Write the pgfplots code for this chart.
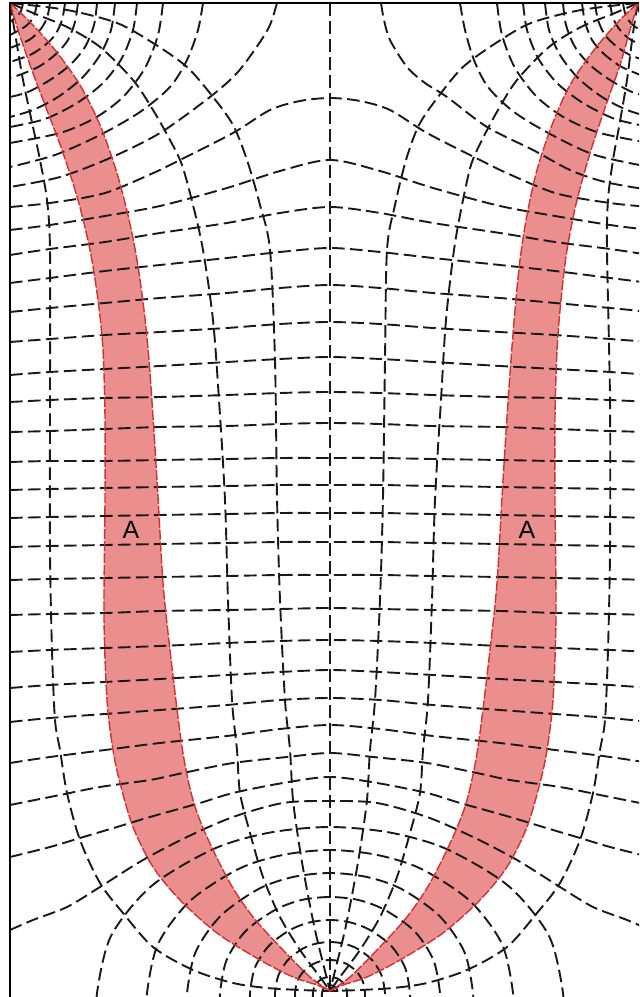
\documentclass[border=0pt]{standalone}
\usepackage{fontspec}
\setmainfont{Liberation Sans}
\usepackage{pgfplots}
\usepackage{pgfplotstable}
\pgfplotsset{compat=1.18}
\usepgfplotslibrary{fillbetween}
\definecolor{bandfill}{RGB}{234,142,142}
\definecolor{bandedge}{RGB}{212,48,48}
\definecolor{netline}{RGB}{25,25,25}
\tikzset{
  net/.style={netline, line width=0.95pt, dash pattern=on 6.3pt off 2.7pt, smooth},
  edge/.style={bandedge, line width=0.7pt, dash pattern=on 5pt off 1pt, smooth},
}
% boundaries of the two shaded stream tubes (outer and inner stream lines)
\pgfplotstableread{
x y
10 3
18 30
30 65
45 105
62 150
78 200
90 250
98 300
103 350
105 417
105 500
104 617
107 700
113 750
120 783
133 827
153 867
180 900
217 933
260 960
293 977
317 985
330 991
}\outerL
\pgfplotstableread{
x y
10 3
30 22
55 50
80 85
100 125
116 170
128 215
137 260
144 310
149 360
153 417
158 497
163 583
170 650
182 747
193 800
207 837
230 883
253 917
283 950
310 977
330 991
}\innerL
\pgfplotstableread{
x y
638 3
630 30
620 65
606 105
591 150
577 200
567 250
561 300
557 350
555 417
555 500
556 617
553 700
547 750
540 783
527 827
507 867
480 900
443 933
400 960
367 977
343 985
330 991
}\outerR
\pgfplotstableread{
x y
638 3
618 22
594 50
570 85
552 125
537 170
527 215
520 260
515 310
511 360
507 417
502 497
497 583
490 650
478 747
467 800
453 837
430 883
407 917
377 950
350 977
330 991
}\innerR
\begin{document}
\begin{tikzpicture}
\begin{axis}[
  scale only axis, width=319.5pt, height=498.5pt,
  xmin=0, xmax=639, ymin=0, ymax=997, y dir=reverse,
  axis line style={draw=none}, ticks=none, clip=true,
]
% shaded tubes
\addplot[draw=none, smooth, name path=oL] table {\outerL};
\addplot[draw=none, smooth, name path=iL] table {\innerL};
\addplot[draw=none, smooth, name path=oR] table {\outerR};
\addplot[draw=none, smooth, name path=iR] table {\innerR};
\addplot[bandfill] fill between[of=oL and iL];
\addplot[bandfill] fill between[of=oR and iR];

% stream lines
\addplot[net] coordinates {(330,3) (330,991)};
\addplot[net] coordinates {(10,3)(67,10)(117,23)(153,43)(187,67)(213,97)(233,125)(247,160)(260,205)(270,250)(275,360)(277,497)(280,600)(285,700)(290,750)(293,800)(300,850)(307,890)(315,930)(323,963)(330,991)};
\addplot[net] coordinates {(638,3)(581,10)(531,23)(496,43)(463,67)(438,97)(419,125)(406,160)(395,205)(387,250)(385,360)(383,497)(380,600)(375,700)(370,750)(367,800)(360,850)(353,890)(345,930)(337,963)(330,991)};
\addplot[net] coordinates {(10,3)(33,13)(67,27)(100,47)(133,80)(153,110)(170,140)(182,165)(193,205)(203,250)(213,320)(219,400)(225,500)(228,600)(232,700)(237,750)(240,793)(250,833)(263,877)(280,917)(300,950)(320,977)(330,991)};
\addplot[net] coordinates {(638,3)(615,13)(581,27)(549,47)(517,80)(498,110)(482,140)(471,165)(462,205)(454,250)(446,320)(441,400)(435,500)(432,600)(428,700)(423,750)(420,793)(410,833)(397,877)(380,917)(360,950)(340,977)(330,991)};
\addplot[net] coordinates {(10,3)(15,33)(23,80)(33,127)(40,160)(47,200)(50,250)(50,400)(50,550)(52,650)(55,720)(60,750)(67,793)(80,840)(100,883)(123,913)(153,947)(193,970)(233,983)(267,988)(300,990)(330,991)};
\addplot[net] coordinates {(638,3)(633,33)(627,80)(619,127)(613,160)(608,200)(607,250)(610,400)(610,550)(608,650)(605,720)(600,750)(593,793)(580,840)(560,883)(537,913)(507,947)(467,970)(427,983)(393,988)(360,990)(330,991)};

% equipotentials around the upper left corner
\addplot[net] coordinates {(23,3)(20,13)(10,22)};
\addplot[net] coordinates {(37,3)(34,16)(26,26)(10,35)};
\addplot[net] coordinates {(50,3)(47,18)(40,30)(29,40)(10,48)};
\addplot[net] coordinates {(65,3)(62,20)(55,35)(44,46)(30,55)(10,62)};
\addplot[net] coordinates {(78,3)(75,22)(68,40)(56,54)(40,66)(22,74)(10,78)};
\addplot[net] coordinates {(97,3)(94,25)(85,47)(70,65)(50,80)(28,92)(10,97)};
\addplot[net] coordinates {(115,3)(111,30)(100,55)(82,78)(58,97)(33,110)(10,117)};
\addplot[net] coordinates {(137,3)(133,30)(122,58)(103,83)(77,103)(45,119)(10,127)};
\addplot[net] coordinates {(163,3)(158,35)(145,68)(123,97)(95,118)(60,133)(10,143)};
\addplot[net] coordinates {(203,3)(198,30)(187,60)(170,87)(140,112)(100,135)(55,155)(10,167)};
\addplot[net] coordinates {(277,3)(270,25)(258,45)(237,73)(210,97)(160,133)(110,158)(60,177)(10,187)};
% equipotentials around the upper right corner
\addplot[net] coordinates {(637,3)(640,13)(650,22)};
\addplot[net] coordinates {(623,3)(626,16)(634,26)(650,35)};
\addplot[net] coordinates {(610,3)(613,18)(620,30)(631,40)(650,48)};
\addplot[net] coordinates {(595,3)(598,20)(605,35)(616,46)(630,55)(650,62)};
\addplot[net] coordinates {(582,3)(585,22)(592,40)(604,54)(620,66)(638,74)(650,78)};
\addplot[net] coordinates {(563,3)(566,25)(575,47)(590,65)(610,80)(632,92)(650,97)};
\addplot[net] coordinates {(545,3)(549,30)(560,55)(578,78)(602,97)(627,110)(650,117)};
\addplot[net] coordinates {(523,3)(527,30)(538,58)(557,83)(583,103)(615,119)(650,127)};
\addplot[net] coordinates {(497,3)(502,35)(515,68)(537,97)(565,118)(600,133)(650,143)};
\addplot[net] coordinates {(460,3)(465,30)(474,60)(488,87)(514,112)(552,135)(595,155)(650,167)};
\addplot[net] coordinates {(381,3)(384,20)(390,40)(407,67)(425,83)(447,97)(487,127)(533,150)(570,170)(605,182)(650,190)};

% equipotentials crossing the whole width
\addplot[net] coordinates {(10,207)(50,203)(105,193)(160,170)(180,160)(233,133)(270,110)(300,101)(330,98)(360,101)(390,110)(427,133)(480,160)(500,170)(555,193)(610,203)(650,207)};
\addplot[net] coordinates {(10,230)(50,225)(105,216)(160,206)(227,188)(280,171)(330,160)(380,171)(433,188)(500,206)(555,216)(610,225)(650,230)};
\addplot[net] coordinates {(10,255)(50,249)(105,242)(160,233)(227,223)(280,213)(330,207)(380,213)(433,223)(500,233)(555,242)(610,249)(650,255)};
\addplot[net] coordinates {(10,283)(50,278)(105,271)(160,265)(227,258)(280,252)(330,248)(380,252)(433,258)(500,265)(555,271)(610,278)(650,283)};
\addplot[net] coordinates {(10,312)(50,308)(105,303)(160,298)(227,293)(280,288)(330,285)(380,288)(433,293)(500,298)(555,303)(610,308)(650,312)};
\addplot[net] coordinates {(10,342)(50,339)(105,335)(160,332)(227,328)(280,324)(330,322)(380,324)(433,328)(500,332)(555,335)(610,339)(650,342)};
\addplot[net] coordinates {(10,375)(50,372)(105,369)(160,366)(227,362)(280,359)(330,357)(380,359)(433,362)(500,366)(555,369)(610,372)(650,375)};
\addplot[net] coordinates {(10,402)(50,400)(105,398)(160,397)(227,395)(280,393)(330,392)(380,393)(433,395)(500,397)(555,398)(610,400)(650,402)};
\addplot[net] coordinates {(10,432)(50,431)(105,429)(160,427)(227,426)(280,424)(330,423)(380,424)(433,426)(500,427)(555,429)(610,431)(650,432)};
\addplot[net] coordinates {(10,462)(50,461)(105,461)(160,460)(227,459)(280,458)(330,458)(380,458)(433,459)(500,460)(555,461)(610,461)(650,462)};
\addplot[net] coordinates {(10,490)(50,489)(105,488)(160,487)(227,486)(280,485)(330,485)(380,485)(433,486)(500,487)(555,488)(610,489)(650,490)};
\addplot[net] coordinates {(10,518)(50,517)(105,516)(160,515)(227,514)(280,513)(330,513)(380,513)(433,514)(500,515)(555,516)(610,517)(650,518)};
\addplot[net] coordinates {(10,547)(50,546)(105,545)(160,544)(227,543)(280,542)(330,542)(380,542)(433,543)(500,544)(555,545)(610,546)(650,547)};
\addplot[net] coordinates {(10,580)(50,579)(105,578)(160,577)(227,576)(280,575)(330,575)(380,575)(433,576)(500,577)(555,578)(610,579)(650,580)};
\addplot[net] coordinates {(10,615)(50,614)(105,613)(160,611)(227,610)(280,609)(330,608)(380,609)(433,610)(500,611)(555,613)(610,614)(650,615)};
\addplot[net] coordinates {(10,652)(50,650)(105,648)(160,646)(227,643)(280,641)(330,640)(380,641)(433,643)(500,646)(555,648)(610,650)(650,652)};
\addplot[net] coordinates {(10,688)(50,685)(105,682)(160,679)(227,675)(280,672)(330,670)(380,672)(433,675)(500,679)(555,682)(610,685)(650,688)};
\addplot[net] coordinates {(10,722)(50,718)(105,714)(160,710)(227,705)(280,700)(330,698)(380,700)(433,705)(500,710)(555,714)(610,718)(650,722)};
\addplot[net] coordinates {(10,763)(50,757)(105,750)(160,743)(227,736)(280,729)(330,725)(380,729)(433,736)(500,743)(555,750)(610,757)(650,763)};
\addplot[net] coordinates {(10,805)(60,795)(100,787)(150,780)(183,773)(233,763)(287,757)(330,753)(373,757)(427,763)(477,773)(510,780)(560,787)(600,795)(650,805)};
\addplot[net] coordinates {(10,857)(50,847)(80,838)(117,827)(150,817)(200,803)(233,793)(283,783)(330,777)(377,783)(427,793)(460,803)(510,817)(543,827)(580,838)(610,847)(650,857)};
\addplot[net] coordinates {(10,930)(33,920)(67,907)(100,887)(143,860)(187,837)(233,817)(283,803)(330,801)(377,803)(427,817)(473,837)(517,860)(560,887)(593,907)(627,920)(650,930)};

% equipotentials around the source
\addplot[net] coordinates {(99,1016)(97,993)(111,936)(151.5,886)(213.5,849)(269.7,832.6)(330,827)(390.3,832.6)(446.5,849)(508.5,886)(549,936)(563,993)(561,1016)};
\addplot[net] coordinates {(149,1013)(147,993)(158,944)(190,901)(238.5,869)(282.6,855)(330,850)(377.4,855)(421.5,869)(470,901)(502,944)(513,993)(511,1013)};
\addplot[net] coordinates {(188.4,1010)(187,993)(195.6,952)(220.5,916)(258.5,889)(293,877)(330,873)(367,877)(401.5,889)(439.5,916)(464.4,952)(473,993)(471.6,1010)};
\addplot[net] coordinates {(221,1006)(220,993)(226.6,960)(245.7,931)(275,910)(301.5,900)(330,897)(358.5,900)(385,910)(414.3,931)(433.4,960)(440,993)(439,1006)};
\addplot[net] coordinates {(250.8,1003)(250,993)(254.8,968)(268.7,946)(290,930)(309.3,922.5)(330,920)(350.7,922.5)(370,930)(391.3,946)(405.2,968)(410,993)(409.2,1003)};
\addplot[net] coordinates {(275.5,1000)(275,993)(278.3,975.6)(287.9,960)(302.5,948.8)(315.8,943.7)(330,942)(344.2,943.7)(357.5,948.8)(372.1,960)(381.7,975.6)(385,993)(384.5,1000)};
\addplot[net] coordinates {(295.3,998)(295,993)(297.1,981.7)(303.2,971.8)(312.5,964.4)(320.9,961.1)(330,960)(339.1,961.1)(347.5,964.4)(356.8,971.8)(362.9,981.7)(365,993)(364.7,998)};
\addplot[net] coordinates {(313,1000)(313,993)(314,987.5)(317,982.7)(321.5,979.1)(325.6,977.5)(330,977)(334.4,977.5)(338.5,979.1)(343,982.7)(346,987.5)(347,993)(347,1000)};
\addplot[net] coordinates {(322,1000)(322,993)(324.3,987.3)(330,985)(335.7,987.3)(338,993)(338,1000)};

% edges of the shaded tubes
\addplot[edge] table {\outerL};
\addplot[edge] table {\innerL};
\addplot[edge] table {\outerR};
\addplot[edge] table {\innerR};

% frame
\addplot[black, line width=1.4pt, line join=miter] coordinates {(10,997) (10,3) (639,3)};

\node[font=\fontsize{12.5}{14}\selectfont] at (axis cs:131,530) {A};
\node[font=\fontsize{12.5}{14}\selectfont] at (axis cs:527,530) {A};
\end{axis}
\end{tikzpicture}
\end{document}
